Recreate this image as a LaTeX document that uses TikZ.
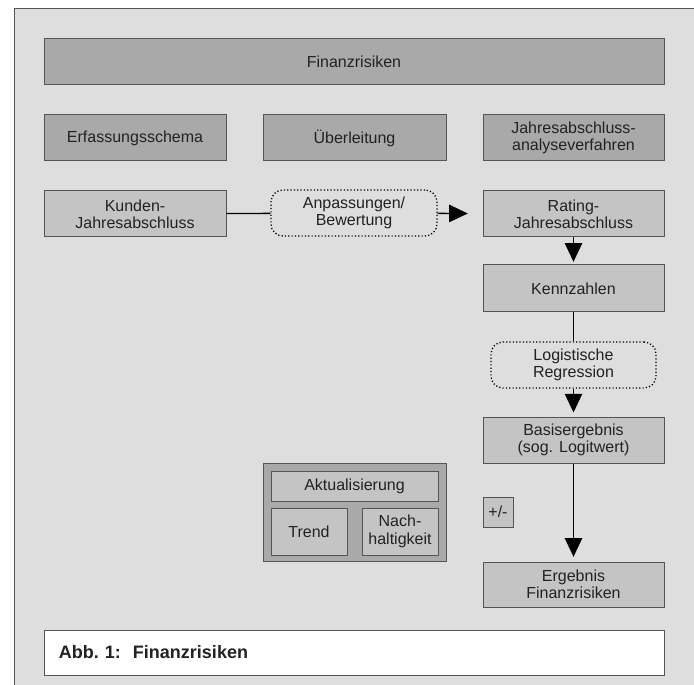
\documentclass[tikz,border=0pt]{standalone}
\usepackage{fontspec}
\setmainfont{Liberation Sans}
\usetikzlibrary{arrows.meta}
\definecolor{panel}{HTML}{DEDEDE}
\definecolor{dark}{HTML}{A9A9A9}
\definecolor{light}{HTML}{C4C4C4}
\definecolor{rim}{HTML}{555555}
\definecolor{ink}{HTML}{222222}
\begin{document}
\begin{tikzpicture}[x=0.75pt,y=-0.75pt,
  every node/.style={text=ink,font=\fontsize{12}{13}\selectfont,align=center,inner sep=0pt},
  darkbox/.style={draw=rim,line width=0.75pt,fill=dark,minimum height=46*0.75pt},
  lightbox/.style={draw=rim,line width=0.75pt,fill=light,minimum width=181*0.75pt,minimum height=46*0.75pt},
  dotbox/.style={draw=black,line width=1pt,dash pattern=on 0.9pt off 1.6pt,fill=panel,rounded corners=9pt,minimum width=166*0.75pt,minimum height=46*0.75pt},
  pfeil/.style={line width=1pt,-{Triangle[length=14pt,width=13pt]}},
  linie/.style={line width=1pt}]
  \useasboundingbox (0,0) rectangle (694,685);
  \fill[white] (0,0) rectangle (694,685);
  \filldraw[fill=panel,draw=rim,line width=0.75pt] (694,685) -- (14,685) -- (14,9) -- (694,9);

  \node[darkbox,minimum width=620*0.75pt] (titel) at (354,62) {Finanzrisiken};
  \node[darkbox,minimum width=182*0.75pt] (erfassung) at (135,138) {Erfassungsschema};
  \node[darkbox,minimum width=183*0.75pt] (ueberleitung) at (354.5,138) {Überleitung};
  \node[darkbox,minimum width=181*0.75pt] (analyse) at (573.5,138) {Jahresabschluss-\\analyseverfahren};

  \node[lightbox,minimum width=182*0.75pt] (kunden) at (135,214) {Kunden-\\Jahresabschluss};
  \node[dotbox] (anpassung) at (354,213) {Anpassungen/\\Bewertung};
  \node[lightbox] (rating) at (573.5,214) {Rating-\\Jahresabschluss};
  \node[lightbox,minimum height=47*0.75pt] (kennzahlen) at (573.5,288.5) {Kennzahlen};
  \node[dotbox,minimum width=165*0.75pt] (logit) at (573.5,365) {Logistische\\Regression};
  \node[lightbox] (basis) at (573.5,440) {Basisergebnis\\(sog. Logitwert)};
  \node[lightbox,minimum height=45*0.75pt] (ergebnis) at (573.5,584.5) {Ergebnis\\Finanzrisiken};
  \node[lightbox,minimum width=30*0.75pt,minimum height=30*0.75pt] (plusminus) at (498,512) {+/-};

  \node[darkbox,minimum width=183*0.75pt,minimum height=98*0.75pt] (aktgruppe) at (354.5,512) {};
  \node[lightbox,minimum width=167*0.75pt,minimum height=30*0.75pt] (aktualisierung) at (354.5,486) {Aktualisierung};
  \node[lightbox,minimum width=76*0.75pt,minimum height=47*0.75pt] (trend) at (309,531.5) {Trend};
  \node[lightbox,minimum width=76*0.75pt,minimum height=47*0.75pt] (nachhaltigkeit) at (400,531.5) {Nach-\\haltigkeit};

  \node[draw=rim,line width=0.75pt,fill=white,minimum width=620*0.75pt,minimum height=45*0.75pt,
    text width=590*0.75pt,align=left,font=\fontsize{13.5}{15}\selectfont\bfseries] (caption) at (354,652.5) {Abb.\ 1:\ \ Finanzrisiken};

  \draw[linie] (kunden) -- (anpassung);
  \draw[pfeil,shorten >=11pt] (anpassung) -- (rating);
  \draw[pfeil,shorten >=2pt] (rating) -- (kennzahlen);
  \draw[linie] (kennzahlen) -- (logit);
  \draw[pfeil,shorten >=3pt] (logit) -- (basis);
  \draw[pfeil,shorten >=3.5pt] (basis) -- (ergebnis);
\end{tikzpicture}
\end{document}
